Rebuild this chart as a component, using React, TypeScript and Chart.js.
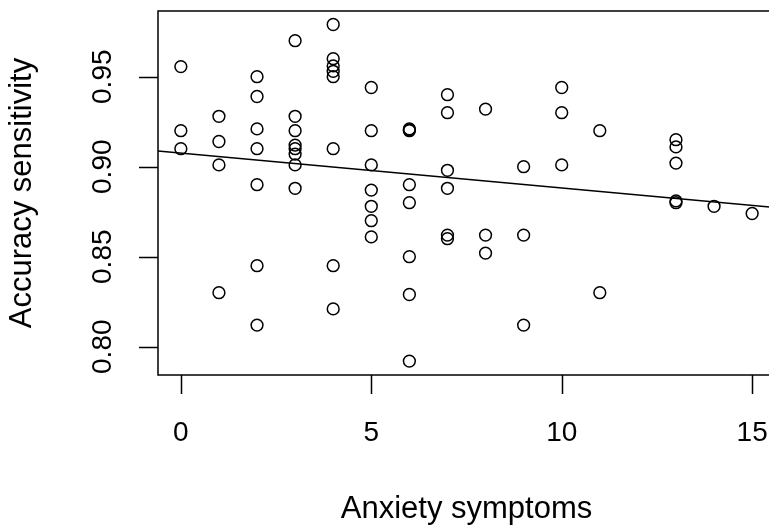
import React, { useEffect, useRef } from "react";
import { Chart, registerables } from "chart.js";

Chart.register(...registerables);

// Anxiety symptoms (x) and accuracy sensitivity (y)
const anxiety: number[] = [
  0, 0, 0,
  1, 1, 1, 1,
  2, 2, 2, 2, 2, 2, 2,
  3, 3, 3, 3, 3, 3, 3, 3,
  4, 4, 4, 4, 4, 4, 4, 4,
  5, 5, 5, 5, 5, 5, 5,
  6, 6, 6, 6, 6, 6, 6, 6,
  7, 7, 7, 7, 7, 7,
  8, 8, 8,
  9, 9, 9,
  10, 10, 10,
  11, 11,
  13, 13, 13, 13, 13,
  14,
  15,
];
const sensitivity: number[] = [
  0.9556, 0.920, 0.910,
  0.928, 0.914, 0.901, 0.830,
  0.950, 0.939, 0.921, 0.910, 0.890, 0.845, 0.812,
  0.970, 0.928, 0.920, 0.912, 0.910, 0.907, 0.901, 0.888,
  0.979, 0.960, 0.956, 0.953, 0.950, 0.910, 0.845, 0.821,
  0.944, 0.920, 0.901, 0.887, 0.878, 0.870, 0.861,
  0.921, 0.920, 0.9205, 0.890, 0.880, 0.850, 0.829, 0.792,
  0.940, 0.930, 0.898, 0.888, 0.862, 0.860,
  0.932, 0.862, 0.852,
  0.900, 0.862, 0.812,
  0.944, 0.930, 0.901,
  0.920, 0.830,
  0.915, 0.911, 0.902, 0.881, 0.880,
  0.878,
  0.874,
];

// Fitted line
const lineIntercept = 0.9075;
const lineSlope = -0.00193;

const xTicks: number[] = [0, 5, 10, 15];
const yTicks: number[] = [0.8, 0.85, 0.9, 0.95];
const xTickLabels: string[] = ["0", "5", "10", "15"];
const yTickLabels: string[] = ["0.80", "0.85", "0.90", "0.95"];
const xTitle = "Anxiety symptoms";
const yTitle = "Accuracy sensitivity";

const X_MIN = -0.6;
const X_MAX = 15.6;
const Y_MIN = 0.78428;
const Y_MAX = 0.9865;

const FONT = '"Liberation Sans", Arial, sans-serif';

const rAxesPlugin = {
  id: "rAxes",
  afterDraw(chart: any) {
    const { ctx, chartArea, scales } = chart;
    const xs = scales.x;
    const ys = scales.y;
    ctx.save();
    ctx.strokeStyle = "#000";
    ctx.fillStyle = "#000";
    ctx.lineWidth = 1.5;
    // box
    ctx.strokeRect(
      chartArea.left,
      chartArea.top,
      chartArea.right - chartArea.left,
      chartArea.bottom - chartArea.top
    );
    // x ticks
    const tickLen = 19;
    ctx.beginPath();
    xTicks.forEach((v) => {
      const px = Math.round(xs.getPixelForValue(v)) + 0.5;
      ctx.moveTo(px, chartArea.bottom);
      ctx.lineTo(px, chartArea.bottom + tickLen);
    });
    yTicks.forEach((v) => {
      const py = Math.round(ys.getPixelForValue(v)) + 0.5;
      ctx.moveTo(chartArea.left, py);
      ctx.lineTo(chartArea.left - tickLen, py);
    });
    ctx.stroke();

    // x tick labels
    ctx.font = `28px ${FONT}`;
    ctx.textAlign = "center";
    ctx.textBaseline = "alphabetic";
    xTicks.forEach((v, i) => {
      ctx.fillText(xTickLabels[i], xs.getPixelForValue(v), chartArea.bottom + 66);
    });
    // y tick labels (rotated)
    yTicks.forEach((v, i) => {
      ctx.save();
      ctx.translate(chartArea.left - 47, ys.getPixelForValue(v));
      ctx.rotate(-Math.PI / 2);
      ctx.fillText(yTickLabels[i], 0, 0);
      ctx.restore();
    });
    // titles
    ctx.font = `31px ${FONT}`;
    ctx.fillText(xTitle, (chartArea.left + chartArea.right) / 2, 518);
    ctx.save();
    ctx.translate(31, (chartArea.top + chartArea.bottom) / 2);
    ctx.rotate(-Math.PI / 2);
    ctx.fillText(yTitle, 0, 0);
    ctx.restore();
    ctx.restore();
  },
};

export default function App() {
  const ref = useRef<HTMLCanvasElement | null>(null);
  useEffect(() => {
    if (!ref.current) return;
    const points = anxiety.map((x, i) => ({ x, y: sensitivity[i] }));
    const fit = [X_MIN, X_MAX].map((x) => ({ x, y: lineIntercept + lineSlope * x }));
    const chart = new Chart(ref.current, {
      type: "scatter",
      data: {
        datasets: [
          {
            type: "line",
            data: fit,
            borderColor: "#000",
            borderWidth: 1.5,
            pointRadius: 0,
            fill: false,
            order: 0,
          } as any,
          {
            type: "scatter",
            data: points,
            pointStyle: "circle",
            pointRadius: 5.9,
            pointBorderWidth: 1.5,
            borderColor: "#000",
            backgroundColor: "rgba(0,0,0,0)",
            order: 1,
          } as any,
        ],
      },
      options: {
        responsive: false,
        animation: false,
        devicePixelRatio: 1,
        layout: { padding: { left: 158, top: 11, right: 15, bottom: 154 } },
        plugins: {
          legend: { display: false },
          tooltip: { enabled: false },
        },
        scales: {
          x: { type: "linear", display: false, min: X_MIN, max: X_MAX },
          y: { type: "linear", display: false, min: Y_MIN, max: Y_MAX },
        },
      },
      plugins: [rAxesPlugin],
    });
    return () => chart.destroy();
  }, []);
  return (
    <div
      style={{
        position: "fixed",
        left: 0,
        top: 0,
        width: 769,
        height: 529,
        overflow: "hidden",
        background: "#fff",
      }}
    >
      <canvas ref={ref} width={790} height={529} style={{ display: "block" }} />
    </div>
  );
}
